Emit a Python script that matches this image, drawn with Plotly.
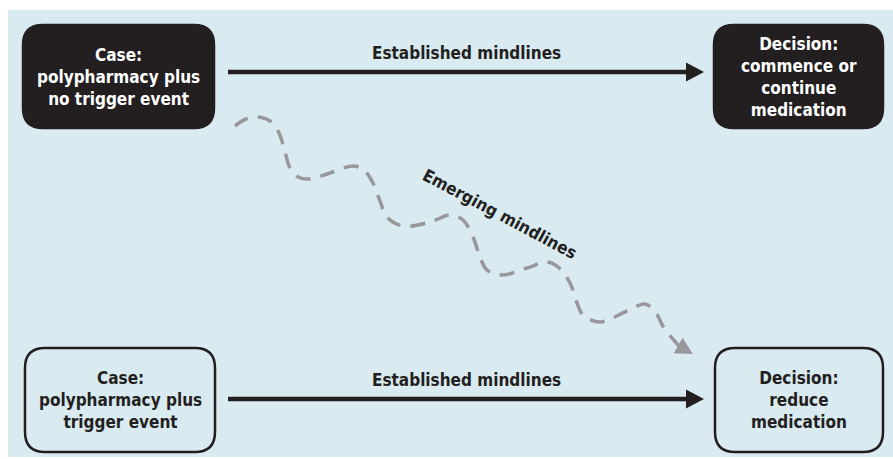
import plotly.graph_objects as go
import numpy as np

# ---- content ----
box_labels = [
    "Case:<br>polypharmacy plus<br>no trigger event",
    "Decision:<br>commence or<br>continue<br>medication",
    "Case:<br>polypharmacy plus<br>trigger event",
    "Decision:<br>reduce<br>medication",
]
arrow_labels = ["Established mindlines", "Established mindlines"]
curve_label = "Emerging mindlines"

# wavy "emerging mindlines" path (pixel-space sample points)
wave_x = [235, 246, 258, 270, 279, 285, 290, 298, 310, 330, 353, 364, 373, 380, 387, 403,
          430, 450, 463, 473, 480, 487, 502, 527, 547, 558, 570, 577, 583, 600, 627, 645,
          656, 664, 679]
wave_y = [126, 119, 117, 121, 133, 152, 168, 177, 179, 173, 166, 170, 183, 201, 217, 226,
          222, 215, 220, 237, 257, 270, 275, 268, 262, 267, 283, 303, 315, 322, 311, 304,
          313, 328, 346]

# ---- layout geometry ----
W, H = 893, 459
BG = "#d9eaf1"
DARK = "#231f20"
GREY = "#98989c"
FONT = "Liberation Sans Narrow, DejaVu Sans Condensed, Roboto, sans-serif"
FS = 17

boxes = [  # x0, y0, x1, y1, filled
    (23, 25, 214, 128, True),
    (714, 25, 883, 128, True),
    (25, 348, 215, 452, False),
    (715, 348, 883, 452, False),
]
arrows = [(228, 704, 72), (228, 704, 399)]


def rrect(x0, y0, x1, y1, r):
    return (f"M {x0+r},{y0} L {x1-r},{y0} Q {x1},{y0} {x1},{y0+r} "
            f"L {x1},{y1-r} Q {x1},{y1} {x1-r},{y1} L {x0+r},{y1} "
            f"Q {x0},{y1} {x0},{y1-r} L {x0},{y0+r} Q {x0},{y0} {x0+r},{y0} Z")


def tri(tipx, tipy, ang, length, half):
    ux, uy = np.cos(ang), np.sin(ang)
    bx, by = tipx - ux * length, tipy - uy * length
    px, py = -uy, ux
    return (f"M {tipx},{tipy} L {bx+px*half},{by+py*half} "
            f"L {bx-px*half},{by-py*half} Z")


shapes = [dict(type="rect", x0=8, y0=10, x1=W, y1=457, fillcolor=BG,
               line=dict(width=0), layer="below")]
annotations = []

for (x0, y0, x1, y1, filled), lab in zip(boxes, box_labels):
    shapes.append(dict(type="path", path=rrect(x0, y0, x1, y1, 20),
                       fillcolor=DARK if filled else BG,
                       line=dict(color=DARK, width=2.5)))
    annotations.append(dict(x=(x0 + x1) / 2, y=(y0 + y1) / 2, text=lab,
                            showarrow=False, align="center",
                            font=dict(family=FONT, size=FS, weight="bold",
                                      color="white" if filled else DARK)))

for (xa, xb, y), lab in zip(arrows, arrow_labels):
    shapes.append(dict(type="line", x0=xa, x1=xb - 16, y0=y, y1=y,
                       line=dict(color=DARK, width=4.5)))
    shapes.append(dict(type="path", path=tri(xb, y, 0.0, 18, 9.5),
                       fillcolor=DARK, line=dict(width=0)))
    annotations.append(dict(x=(xa + xb) / 2, y=y - 19, text=lab, showarrow=False,
                            font=dict(family=FONT, size=FS, weight="bold", color=DARK)))

# arrowhead at end of wavy path
ang = np.deg2rad(30)
tipx, tipy = wave_x[-1] + 16 * np.cos(ang), wave_y[-1] + 16 * np.sin(ang)
shapes.append(dict(type="path", path=tri(tipx, tipy, ang, 17, 9),
                   fillcolor=GREY, line=dict(width=0)))

annotations.append(dict(x=500, y=214, text=curve_label, showarrow=False, textangle=28,
                        font=dict(family=FONT, size=FS, weight="bold", color=DARK)))

fig = go.Figure()
fig.add_trace(go.Scatter(x=wave_x, y=wave_y, mode="lines",
                         line=dict(color=GREY, width=3.5, dash="15px,10px",
                                   shape="spline", smoothing=1.0),
                         hoverinfo="skip", showlegend=False))

fig.update_layout(
    width=W, height=H, margin=dict(l=0, r=0, t=0, b=0),
    paper_bgcolor="white", plot_bgcolor="white",
    xaxis=dict(range=[0, W], visible=False, fixedrange=True),
    yaxis=dict(range=[H, 0], visible=False, fixedrange=True),
    shapes=shapes, annotations=annotations, showlegend=False,
)
fig.write_html("out.html", config={"displayModeBar": False},
               post_script="document.body.style.margin='0';document.body.style.overflow='hidden';")
